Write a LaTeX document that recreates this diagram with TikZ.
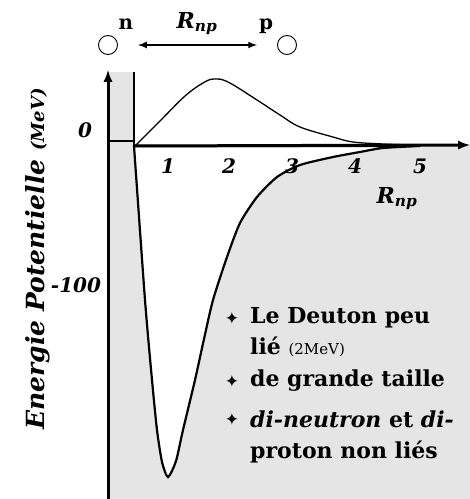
\documentclass[tikz,border=0pt]{standalone}
\usepackage{fontspec}
\setmainfont{DejaVu Serif}
\newfontfamily\symfont{DejaVu Sans}
\usetikzlibrary{arrows}

\tikzset{
  axisline/.style={line width=3pt},
  ticklab/.style={font=\fontsize{20}{20}\selectfont\bfseries\itshape, inner sep=0pt},
  bulletline/.style={anchor=west, inner sep=0pt, font=\fontsize{22}{22}\selectfont\bfseries},
  bulletmark/.style={inner sep=0pt, font=\symfont\fontsize{17}{17}\selectfont},
  nucleon/.style={circle, draw, line width=0.9pt, minimum size=19pt, inner sep=0pt},
}

\begin{document}
\begin{tikzpicture}[x=1pt,y=1pt]
\useasboundingbox (0,0) rectangle (470,499);

% grey area of the plot
\fill[black!10] (108,0) rectangle (470,353);
\fill[black!10] (108,353) rectangle (134,427);

% potential well (white inside)
\filldraw[fill=white, line width=2.2pt] plot[smooth, tension=0.4] coordinates {(134,353) (145,199) (152,119) (157,69) (162,37) (168,22) (176,38) (183,69) (195,119) (204,160) (213,199) (227,242) (240,276) (257,302) (277,322) (300,334) (333,342) (360,347) (383,351) (420,353)} -- cycle;

% wave function
\draw[line width=1.3pt] plot[smooth, tension=0.6] coordinates {(135,353) (160,378) (185,403) (203,416) (214,420) (228,417) (257,399) (280,384) (300,372) (333,362) (353,357) (383,355) (410,354)};

% hard core and axes
\coordinate (O) at (108,0);
\coordinate (ytop) at (108,429);
\coordinate (xstart) at (134,353);
\coordinate (xend) at (470,354);
\draw[line width=2pt] (134,427) -- (xstart);
\draw[line width=2pt] (108,358) -- (134,358);
\draw[-latex, axisline] (O) -- (ytop);
\draw[-latex, axisline] (xstart) -- (xend);

\foreach \x/\lab in {168/1,229/2,292/3,355/4,420/5} % numbers on the axis
\node[ticklab] (t\lab) at (\x,333) {\lab};
\node[ticklab] (zero) at (85,369) {0};
\node[ticklab] (cent) at (76,214) {-100};
\node[font=\fontsize{22}{22}\selectfont\bfseries\itshape] (rx) at (397,300) {R\textsubscript{np}};

\node[rotate=90, font=\fontsize{25}{25}\selectfont\bfseries\itshape] (ylab) at (38,240)
  {Energie Potentielle {\fontsize{18}{18}\selectfont(MeV)}};

% n and p
\node[nucleon] (nc) at (108,454) {};
\node[nucleon] (pc) at (287,454) {};
\node[font=\fontsize{20}{20}\selectfont\bfseries] (nlab) at (126,475) {n};
\node[font=\fontsize{20}{20}\selectfont\bfseries] (plab) at (266,473) {p};
\draw[latex-latex, line width=2pt, shorten <=20pt, shorten >=20pt] (nc) -- (pc);
\node[font=\fontsize{22}{22}\selectfont\bfseries\itshape] (rtop) at (197,475) {R\textsubscript{np}};

% bullet list
\foreach \y in {181,118,80} % bullets
\node[bulletmark] at (232,\y) {✦};
\node[bulletline] (l1) at (250,181) {Le Deuton peu};
\node[bulletline] (l2) at (250,152) {lié {\mdseries\fontsize{15}{15}\selectfont(2MeV)}};
\node[bulletline] (l3) at (250,118) {de grande taille};
\node[bulletline] (l4) at (250,80) {\textit{di-neutron} et \textit{di-}};
\node[bulletline] (l5) at (250,47) {proton non liés};

\end{tikzpicture}
\end{document}
